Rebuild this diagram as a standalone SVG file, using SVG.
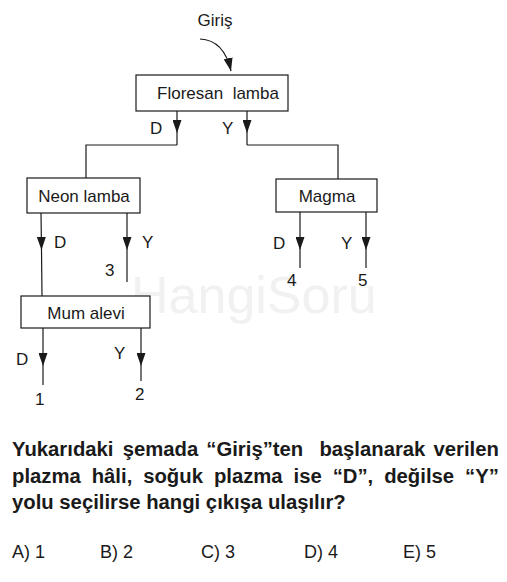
<svg xmlns="http://www.w3.org/2000/svg" width="507" height="582" viewBox="0 0 507 582">
<style>
.box{fill:#fff;stroke:#1a1a1a;stroke-width:1.2}
.ln{fill:none;stroke:#1a1a1a;stroke-width:1.2}
.t{font-family:"Liberation Sans",Arial,sans-serif;font-size:17px;fill:#1a1a1a}
.q{font-family:"Liberation Sans",Arial,sans-serif;font-size:20.3px;font-weight:bold;fill:#1a1a1a}
.o{font-family:"Liberation Sans",Arial,sans-serif;font-size:18px;fill:#1a1a1a}
.wm{font-family:"Liberation Sans",Arial,sans-serif;font-size:52px;fill:#f1f1f1}
</style>
<defs>
<marker id="ah" viewBox="0 0 10 14" refX="10" refY="7" markerWidth="13" markerHeight="9" markerUnits="userSpaceOnUse" orient="auto" preserveAspectRatio="none">
<path d="M0,0 L10,7 L0,14 Z" fill="#1a1a1a"/>
</marker>
</defs>
<text class="wm" x="131" y="313">HangiSoru</text>
<g id="connectors">
<path class="ln" d="M200,39 Q224,40 231,71" marker-end="url(#ah)"/>
<path class="ln" d="M177,111 L177,133 L177,145" marker-mid="url(#ah)"/>
<path class="ln" d="M177,145 L86,145 L86,178"/>
<path class="ln" d="M247,111 L247,133 L247,145" marker-mid="url(#ah)"/>
<path class="ln" d="M247,145 L338,145 L338,179"/>
<path class="ln" d="M41,213 L41.5,250 L42,296" marker-mid="url(#ah)"/>
<path class="ln" d="M127,213 L127,250 L127,282" marker-mid="url(#ah)"/>
<path class="ln" d="M300,212 L300,250 L300,268" marker-mid="url(#ah)"/>
<path class="ln" d="M366,212 L366,250 L366,268" marker-mid="url(#ah)"/>
<path class="ln" d="M43,328 L43,366 L43,385" marker-mid="url(#ah)"/>
<path class="ln" d="M141,328 L141,366 L141,381" marker-mid="url(#ah)"/>
</g>
<text class="t" x="215" y="26" text-anchor="middle">Giriş</text>
<g id="floresan">
<rect class="box" x="136" y="75" width="152" height="36"/>
<text class="t" x="218" y="99" text-anchor="middle" xml:space="preserve">Floresan  lamba</text>
</g>
<text class="t" x="150" y="134">D</text>
<text class="t" x="222" y="134">Y</text>
<g id="neon">
<rect class="box" x="27" y="178" width="113" height="35"/>
<text class="t" x="84" y="202" text-anchor="middle">Neon lamba</text>
</g>
<g id="magma">
<rect class="box" x="276" y="179" width="101" height="33"/>
<text class="t" x="327" y="202" text-anchor="middle">Magma</text>
</g>
<g id="mum">
<rect class="box" x="21" y="296" width="129" height="32"/>
<text class="t" x="86" y="319" text-anchor="middle">Mum alevi</text>
</g>
<text class="t" x="54" y="248">D</text>
<text class="t" x="142" y="248">Y</text>
<text class="t" x="105" y="276">3</text>
<text class="t" x="273" y="249">D</text>
<text class="t" x="341" y="249">Y</text>
<text class="t" x="287" y="286">4</text>
<text class="t" x="358" y="286">5</text>
<text class="t" x="16" y="365">D</text>
<text class="t" x="114" y="359">Y</text>
<text class="t" x="35" y="405">1</text>
<text class="t" x="135" y="400">2</text>
<text class="q" y="456"><tspan x="12">Yukarıdaki</tspan><tspan x="122.7">şemada</tspan><tspan x="206.3">“Giriş”ten</tspan><tspan x="319.4">başlanarak</tspan><tspan x="433.5">verilen</tspan></text>
<text class="q" y="483"><tspan x="12">plazma</tspan><tspan x="91.7">hâli,</tspan><tspan x="143.2">soğuk</tspan><tspan x="213.9">plazma</tspan><tspan x="293.6">ise</tspan><tspan x="332.7">“D”,</tspan><tspan x="384.2">değilse</tspan><tspan x="465.1">“Y”</tspan></text>
<text class="q" x="12" y="509">yolu seçilirse hangi çıkışa ulaşılır?</text>
<text class="o" x="12" y="558">A) 1</text>
<text class="o" x="100" y="558">B) 2</text>
<text class="o" x="201" y="558">C) 3</text>
<text class="o" x="304" y="558">D) 4</text>
<text class="o" x="403" y="558">E) 5</text>
</svg>
